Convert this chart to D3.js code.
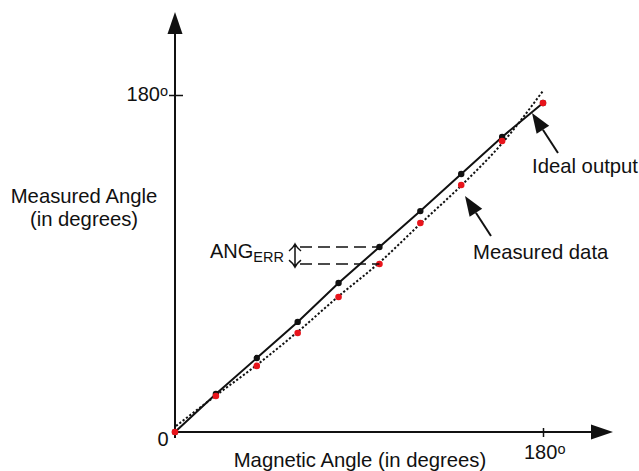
<!DOCTYPE html>
<html lang="en">
<head>
  <meta charset="UTF-8">
  <title>Measured Angle vs Magnetic Angle</title>
  <style>
    body { margin: 0; background: #fff; }
    text { font-family: "Liberation Sans", Arial, sans-serif; fill: #111; }
  </style>
  <script src="https://d3js.org/d3.v7.min.js"></script>
</head>
<body>
<div id="chart"></div>
<script>
  // data (degrees)
  var magneticAngles = [0, 20, 40, 60, 80, 100, 120, 140, 160, 180];
  var idealValues    = [0, 20.3, 39.5, 58.8, 79.6, 98.8, 118, 137.8, 157.6, 175.7];
  var measuredValues = [0, 19.2, 35.3, 52.9, 72.1, 89.7, 111.6, 131.9, 155.4, 175.7];
  // dotted fit through the measured data
  var fitX = [0.5, 20, 40, 60, 80, 100, 120, 140, 160, 180];
  var fitY = [3.2, 19.5, 35.8, 53.5, 72.5, 90.5, 111.2, 131.6, 154.2, 182.2];
  var tickValues = [180];

  var width = 639, height = 471;
  var svg = d3.select("#chart").append("svg")
    .attr("width", width)
    .attr("height", height);

  var x = d3.scaleLinear().domain([0, 180]).range([175, 543]);
  var y = d3.scaleLinear().domain([0, 180]).range([432, 95]);

  // x axis
  var xAxis = svg.append("g")
    .attr("transform", "translate(0," + y(0) + ")")
    .call(d3.axisBottom(x).tickValues(tickValues).tickSize(5).tickFormat(d => d));
  xAxis.select(".domain").remove();
  xAxis.selectAll(".tick line").attr("y1", -4).attr("stroke", "#111").attr("stroke-width", 1.5);
  xAxis.selectAll(".tick text").remove();

  // y axis
  var yAxis = svg.append("g")
    .attr("transform", "translate(" + x(0) + ",0)")
    .call(d3.axisLeft(y).tickValues(tickValues).tickSize(6).tickFormat(d => d));
  yAxis.select(".domain").remove();
  yAxis.selectAll(".tick line").attr("x1", -6).attr("x2", 8).attr("stroke", "#111").attr("stroke-width", 1.5);
  yAxis.selectAll(".tick text").remove();

  // axis lines with arrow heads
  svg.append("line")
    .attr("x1", x(0)).attr("y1", y(0) + 6)
    .attr("x2", x(0)).attr("y2", 30)
    .attr("stroke", "#111").attr("stroke-width", 2);
  svg.append("path")
    .attr("d", "M" + x(0) + ",12 L" + (x(0) - 7.5) + ",34 L" + (x(0) + 7.5) + ",34 Z")
    .attr("fill", "#111");

  svg.append("line")
    .attr("x1", x(0)).attr("y1", y(0))
    .attr("x2", 595).attr("y2", y(0))
    .attr("stroke", "#111").attr("stroke-width", 2);
  svg.append("path")
    .attr("d", "M613," + y(0) + " L591," + (y(0) - 7.5) + " L591," + (y(0) + 7.5) + " Z")
    .attr("fill", "#111");

  // tick labels
  function degreeLabel(g, tx, ty, anchor) {
    var t = g.append("text")
      .attr("x", tx).attr("y", ty)
      .attr("text-anchor", anchor)
      .style("font-size", "20px");
    t.append("tspan").text("180");
    t.append("tspan").attr("dy", -5).style("font-size", "14.5px").text("o");
    return t;
  }
  degreeLabel(svg, 168, 101, "end");
  degreeLabel(svg, x(180) - 19, 459, "start");

  svg.append("text")
    .attr("x", 163).attr("y", 446)
    .attr("text-anchor", "middle")
    .style("font-size", "20px")
    .text("0");

  // axis titles
  svg.append("text")
    .attr("x", 360).attr("y", 467)
    .attr("text-anchor", "middle")
    .style("font-size", "20.3px")
    .text("Magnetic Angle (in degrees)");

  svg.append("text")
    .attr("x", 84).attr("y", 203)
    .attr("text-anchor", "middle")
    .style("font-size", "20.3px")
    .text("Measured Angle");
  svg.append("text")
    .attr("x", 84).attr("y", 226)
    .attr("text-anchor", "middle")
    .style("font-size", "20.3px")
    .text("(in degrees)");

  // dotted fit line
  var fitPts = fitX.map((v, i) => [v, fitY[i]]);
  svg.append("path")
    .datum(fitPts)
    .attr("fill", "none")
    .attr("stroke", "#111")
    .attr("stroke-width", 2)
    .attr("stroke-dasharray", "2.2,2")
    .attr("d", d3.line().x(d => x(d[0])).y(d => y(d[1])).curve(d3.curveMonotoneX));

  // solid ideal line
  var idealPts = magneticAngles.map((v, i) => [v, idealValues[i]]);
  svg.append("path")
    .datum(idealPts)
    .attr("fill", "none")
    .attr("stroke", "#111")
    .attr("stroke-width", 2)
    .attr("d", d3.line().x(d => x(d[0])).y(d => y(d[1])));

  svg.append("g")
    .selectAll("circle")
    .data(idealPts)
    .enter().append("circle")
    .attr("cx", d => x(d[0]))
    .attr("cy", d => y(d[1]))
    .attr("r", 3.2)
    .attr("fill", "#111");

  var measPts = magneticAngles.map((v, i) => [v, measuredValues[i]]);
  svg.append("g")
    .selectAll("circle")
    .data(measPts)
    .enter().append("circle")
    .attr("cx", d => x(d[0]))
    .attr("cy", d => y(d[1]))
    .attr("r", 3.3)
    .attr("fill", "#e8141b");

  // ANG_ERR annotation
  var i5 = 5;
  var yTop = y(idealValues[i5]), yBot = y(measuredValues[i5]);
  [yTop, yBot].forEach(function(yy) {
    svg.append("line")
      .attr("x1", 300).attr("x2", x(magneticAngles[i5]))
      .attr("y1", yy).attr("y2", yy)
      .attr("stroke", "#111")
      .attr("stroke-width", 1.5)
      .attr("stroke-dasharray", "12,6");
  });
  var ax = 295;
  svg.append("path")
    .attr("d", "M" + ax + "," + (yTop - 3) + " L" + ax + "," + (yBot + 3) +
      " M" + (ax - 6) + "," + (yTop + 4) + " Q" + (ax - 2) + "," + (yTop + 1) + " " + ax + "," + (yTop - 3) +
      " Q" + (ax + 2) + "," + (yTop + 1) + " " + (ax + 6) + "," + (yTop + 4) +
      " M" + (ax - 6) + "," + (yBot - 4) + " Q" + (ax - 2) + "," + (yBot - 1) + " " + ax + "," + (yBot + 3) +
      " Q" + (ax + 2) + "," + (yBot - 1) + " " + (ax + 6) + "," + (yBot - 4))
    .attr("fill", "none")
    .attr("stroke", "#111")
    .attr("stroke-width", 1.5);

  var ang = svg.append("text")
    .attr("x", 210).attr("y", 258)
    .style("font-size", "20px");
  ang.append("tspan").text("ANG");
  ang.append("tspan").attr("dy", 4).style("font-size", "14.5px").text("ERR");

  // callout arrows
  function callout(x1, y1, x2, y2) {
    var a = Math.atan2(y2 - y1, x2 - x1);
    var len = 20, hw = 7.5;
    var bx = x2 - len * Math.cos(a), by = y2 - len * Math.sin(a);
    svg.append("line")
      .attr("x1", x1).attr("y1", y1).attr("x2", bx).attr("y2", by)
      .attr("stroke", "#111").attr("stroke-width", 2);
    svg.append("path")
      .attr("d", "M" + x2 + "," + y2 +
        " L" + (bx + hw * Math.sin(a)) + "," + (by - hw * Math.cos(a)) +
        " L" + (bx - hw * Math.sin(a)) + "," + (by + hw * Math.cos(a)) + " Z")
      .attr("fill", "#111");
  }
  callout(558, 153, 532, 113);
  callout(491, 236, 465, 196);

  svg.append("text")
    .attr("x", 532).attr("y", 173)
    .style("font-size", "20.3px")
    .text("Ideal output");
  svg.append("text")
    .attr("x", 473).attr("y", 259)
    .style("font-size", "20.3px")
    .text("Measured data");
</script>
</body>
</html>
